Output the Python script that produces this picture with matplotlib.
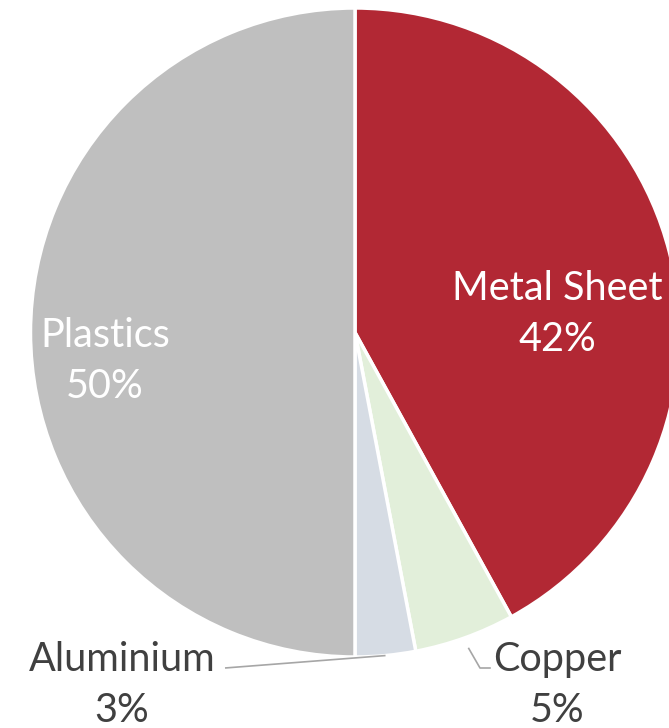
import numpy as np
import matplotlib
matplotlib.use("Agg")
import matplotlib.pyplot as plt

categories = ["Metal Sheet", "Copper", "Aluminium", "Plastics"]
values = [42, 5, 3, 50]
colors = ["#B22834", "#E2EFDA", "#D6DCE4", "#BFBFBF"]

W, H = 669, 728
fig = plt.figure(figsize=(W / 100, H / 100), dpi=100)
ax = fig.add_axes([0, 0, 1, 1])
ax.set_xlim(0, W)
ax.set_ylim(0, H)
ax.set_aspect("equal")
ax.axis("off")

cx, cy, R = 355, H - 332.5, 324.5
wedges, _ = ax.pie(values, colors=colors, startangle=90, counterclock=False,
                   center=(cx, cy), radius=R, frame=True,
                   wedgeprops=dict(edgecolor="white", linewidth=2.5))
ax.set_xlim(0, W)
ax.set_ylim(0, H)
ax.axis("off")

font = dict(family=["Lato", "DejaVu Sans"], fontsize=28.5)
ls = 1.45
total = sum(values)
fr = np.cumsum([0] + values) / total
mids = {c: np.deg2rad(90 - 360 * (fr[i] + fr[i + 1]) / 2) for i, c in enumerate(categories)}

def pct(v):
    return f"{v / total * 100:.0f}%"

# inside labels
ax.text(557, H - 314, f"{categories[0]}\n{pct(values[0])}", ha="center", va="center",
        color="white", linespacing=ls, **font)
ax.text(105, H - 361, f"{categories[3]}\n{pct(values[3])}", ha="center", va="center",
        color="white", linespacing=ls, **font)

# outside labels with leader lines
lc = "#A6A6A6"
a = mids["Aluminium"]
x0, y0 = cx + R * 1.0 * np.cos(a), cy + R * 1.0 * np.sin(a)
ax.plot([x0, 225], [y0, H - 668], color=lc, lw=1.2, solid_capstyle="butt")
ax.text(122, H - 685, f"{categories[2]}\n{pct(values[2])}", ha="center", va="center",
        color="#404040", linespacing=ls, **font)

c = mids["Copper"]
x1, y1 = cx + R * 1.035 * np.cos(c), cy + R * 1.035 * np.sin(c)
ax.plot([x1, 480, 490], [y1, H - 668, H - 668], color=lc, lw=1.2)
ax.text(557, H - 685, f"{categories[1]}\n{pct(values[1])}", ha="center", va="center",
        color="#404040", linespacing=ls, **font)

fig.savefig("out.png", dpi=100)
